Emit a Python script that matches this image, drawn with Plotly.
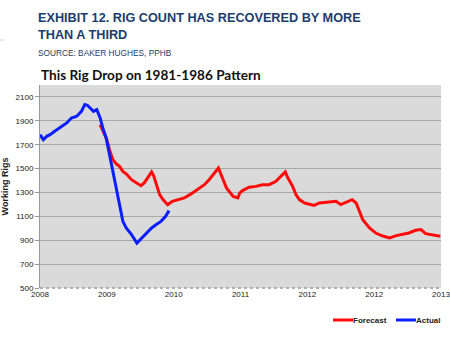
import plotly.graph_objects as go

# Year positions along the x axis (0 = start of 2008) and tick labels
tick_pos = [0, 1, 2, 3, 4, 5, 6]
tick_labels = ["2008", "2009", "2010", "2011", "2012", "2012", "2013"]
y_ticks = [500, 700, 900, 1100, 1300, 1500, 1700, 1900, 2100]

# Actual rig count
actual_x = [0.0, 0.05, 0.10, 0.15, 0.22, 0.30, 0.40, 0.47, 0.55, 0.62, 0.67, 0.71,
            0.75, 0.80, 0.85, 0.87, 0.90, 0.94, 0.99, 1.04, 1.09, 1.14, 1.19, 1.24,
            1.29, 1.37, 1.45, 1.52, 1.59, 1.67, 1.74, 1.81, 1.88, 1.93]
actual_y = [1784, 1742, 1770, 1784, 1812, 1840, 1882, 1924, 1938, 1979, 2036, 2030,
            2008, 1979, 1994, 1966, 1924, 1840, 1757, 1617, 1477, 1338, 1198, 1058,
            1003, 947, 877, 919, 961, 1003, 1031, 1058, 1100, 1148]

# Forecast on the 1981-1986 pattern
forecast_x = [0.90, 0.95, 1.00, 1.04, 1.09, 1.14, 1.19, 1.24, 1.29, 1.37, 1.44, 1.51,
              1.56, 1.62, 1.67, 1.70, 1.74, 1.79, 1.84, 1.91, 1.98, 2.06, 2.16, 2.26,
              2.36, 2.46, 2.53, 2.61, 2.67, 2.70, 2.73, 2.79, 2.89, 2.96, 2.99, 3.03,
              3.13, 3.23, 3.33, 3.43, 3.53, 3.63, 3.67, 3.71, 3.78, 3.83, 3.88, 3.96,
              4.03, 4.10, 4.18, 4.28, 4.36, 4.43, 4.50, 4.60, 4.67, 4.73, 4.78, 4.83,
              4.93, 5.03, 5.13, 5.23, 5.33, 5.42, 5.52, 5.62, 5.70, 5.77, 5.87, 5.99]
forecast_y = [1868, 1798, 1742, 1659, 1575, 1540, 1519, 1477, 1456, 1407, 1380, 1357,
              1380, 1435, 1472, 1442, 1365, 1282, 1240, 1198, 1226, 1240, 1254, 1288,
              1324, 1365, 1407, 1463, 1505, 1463, 1421, 1338, 1267, 1254, 1296, 1316,
              1344, 1351, 1365, 1365, 1393, 1449, 1472, 1421, 1351, 1282, 1240, 1212,
              1204, 1192, 1212, 1220, 1226, 1226, 1198, 1226, 1240, 1212, 1142, 1072,
              1003, 958, 935, 919, 939, 947, 961, 983, 989, 955, 947, 933]

RED = "#ff0a0a"
BLUE = "#0a1eff"

fig = go.Figure()
fig.add_trace(go.Scatter(x=forecast_x, y=forecast_y, mode="lines", name="Forecast",
                         line=dict(color=RED, width=3)))
fig.add_trace(go.Scatter(x=actual_x, y=actual_y, mode="lines", name="Actual",
                         line=dict(color=BLUE, width=3)))

tick_font = dict(family="Liberation Sans", size=8, color="#222222")

fig.update_layout(
    width=450, height=338,
    margin=dict(l=40, r=9, t=85, b=50, autoexpand=False),
    paper_bgcolor="white",
    plot_bgcolor="#dadada",
    showlegend=False,
    xaxis=dict(range=[0, 6], tickvals=tick_pos, ticktext=tick_labels,
               showgrid=False, zeroline=False, tickfont=tick_font,
               ticklabeloverflow="allow", automargin=False,
               ticks="", ticklen=0, showline=False, fixedrange=True),
    yaxis=dict(range=[500, 2200], tickvals=y_ticks, showgrid=True,
               gridcolor="#a8a8a8", gridwidth=1, zeroline=False,
               tickfont=tick_font, ticks="outside", ticklen=4, tickcolor="#999999",
               showline=True, linecolor="#999999", linewidth=1, automargin=False,
               title=dict(text="<b>Working Rigs</b>", standoff=8,
                          font=dict(family="Liberation Sans", size=9, color="#222222")),
               fixedrange=True),
)

# dotted baseline along the bottom of the plot area
fig.add_shape(type="line", xref="paper", yref="paper", x0=0, x1=1, y0=0, y1=0,
              line=dict(color="#9a9a9a", width=1.5, dash="dot"))

# small rule at the left edge of the header
fig.add_shape(type="line", xref="paper", yref="paper",
              x0=-40 / 401, x1=-36 / 401, y0=(288 - 40) / 203, y1=(288 - 40) / 203,
              line=dict(color="#cccccc", width=1))

def px_x(px):
    return (px - 40) / 401

def px_y(py):
    return (288 - py) / 203

# header text
fig.add_annotation(xref="paper", yref="paper", x=px_x(36), y=px_y(9),
                   xanchor="left", yanchor="top", showarrow=False, align="left",
                   text="<b>EXHIBIT 12. RIG COUNT HAS RECOVERED BY MORE<br>THAN A THIRD</b>",
                   font=dict(family="Liberation Sans", size=12.7, color="#1c3d6c"))
fig.add_annotation(xref="paper", yref="paper", x=px_x(36), y=px_y(45.5),
                   xanchor="left", yanchor="top", showarrow=False,
                   text="SOURCE: BAKER HUGHES, PPHB",
                   font=dict(family="Liberation Sans", size=8.3, color="#1c3d6c"))
fig.add_annotation(xref="paper", yref="paper", x=px_x(39), y=px_y(65),
                   xanchor="left", yanchor="top", showarrow=False,
                   text="<b>This Rig Drop on 1981-1986 Pattern</b>",
                   font=dict(family="Lato", size=13.6, color="#111111"))

# legend: short coloured rules with labels
legend_items = [("Forecast", RED, 333, 353), ("Actual", BLUE, 396, 416)]
for label, color, x0, x1 in legend_items:
    fig.add_shape(type="line", xref="paper", yref="paper",
                  x0=px_x(x0), x1=px_x(x1), y0=px_y(320), y1=px_y(320),
                  line=dict(color=color, width=3))
    fig.add_annotation(xref="paper", yref="paper", x=px_x(x1 - 2), y=px_y(320),
                       xanchor="left", yanchor="middle", showarrow=False,
                       text="<b>" + label + "</b>",
                       font=dict(family="Liberation Sans", size=8, color="#222222"))

fig.write_html("out.html")
